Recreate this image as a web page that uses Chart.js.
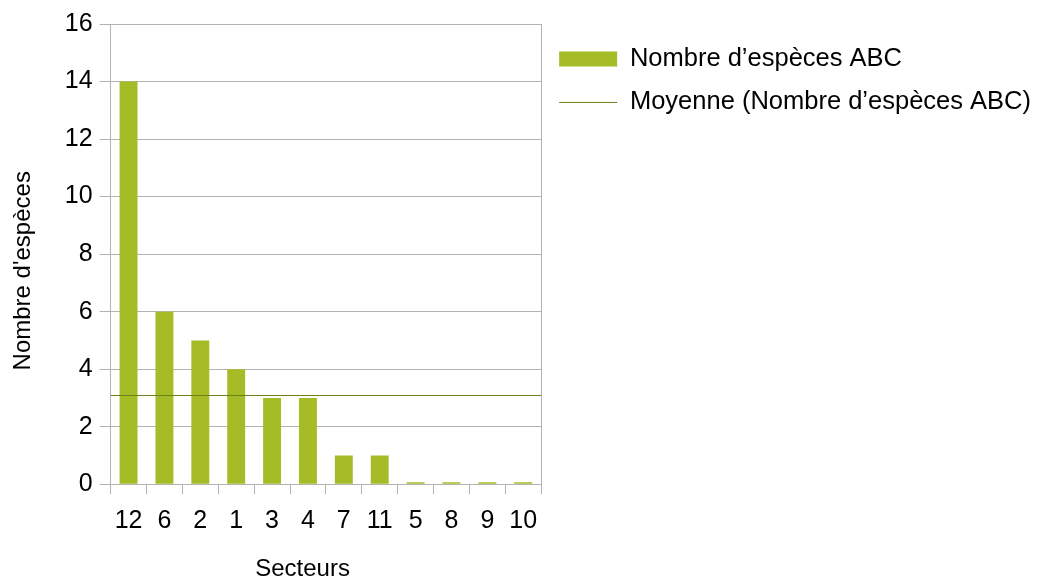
<!DOCTYPE html>
<html>
<head>
<meta charset="utf-8">
<script src="https://cdn.jsdelivr.net/npm/chart.js@4"></script>
<style>
  html, body { margin: 0; padding: 0; background: #fff; }
  #wrap { width: 1040px; height: 576px; }
</style>
</head>
<body>
<div id="wrap"><canvas id="chart"></canvas></div>
<script>
// Sectors sorted by number of species
const secteurs = ["12", "6", "2", "1", "3", "4", "7", "11", "5", "8", "9", "10"];
const especes = [14, 6, 5, 4, 3, 3, 1, 1, 0, 0, 0, 0];
const yMin = 0;
const yMax = 16;
const yStep = 2;

const moyenne = especes.reduce((a, b) => a + b, 0) / especes.length;

const vert = "#a6bc26";
const vertFonce = "#6b7e16";
const gris = "#b3b3b3";

// axis titles sit a bit off-centre, so pad them with trailing spaces
const nbsp = (n) => "\u00a0".repeat(n);

Chart.defaults.font.family = "'Liberation Sans', Arial, sans-serif";
Chart.defaults.color = "#000";

const ctx = document.getElementById("chart").getContext("2d");
new Chart(ctx, {
  type: "bar",
  data: {
    labels: secteurs,
    datasets: [
      {
        label: "Nombre d\u2019espèces ABC",
        data: especes,
        backgroundColor: vert,
        borderWidth: 0,
        barPercentage: 0.5,
        categoryPercentage: 1,
        grouped: false,
        minBarLength: 2,
        order: 1,
      },
      {
        type: "line",
        label: "Moyenne (Nombre d\u2019espèces ABC)",
        // mean line spans the whole plot width on a hidden linear axis
        data: [{ x: 0, y: moyenne }, { x: secteurs.length, y: moyenne }],
        xAxisID: "xMoy",
        borderColor: vertFonce,
        backgroundColor: vertFonce,
        borderWidth: 1,
        pointRadius: 0,
        order: 0,
      },
    ],
  },
  options: {
    responsive: true,
    maintainAspectRatio: false,
    animation: false,
    layout: { padding: { top: 24, right: -1, bottom: -8, left: 9 } },
    plugins: {
      tooltip: { enabled: false },
      legend: {
        position: "right",
        align: "start",
        maxWidth: 520,
        title: { display: true, text: "", font: { size: 1 }, padding: { top: 3, bottom: 0 } },
        labels: {
          font: { size: 25.5 },
          color: "#000",
          usePointStyle: true,
          boxHeight: 15,
          pointStyleWidth: 58,
          padding: 18,
          generateLabels: (chart) => {
            const items = Chart.defaults.plugins.legend.labels.generateLabels(chart);
            items.sort((a, b) => a.datasetIndex - b.datasetIndex);
            items.forEach((it) => {
              it.pointStyle = it.datasetIndex === 0 ? "rect" : "line";
            });
            return items;
          },
        },
      },
    },
    scales: {
      x: {
        type: "category",
        grid: { offset: true, drawOnChartArea: false, drawTicks: true, tickLength: 10, color: gris },
        border: { color: gris },
        ticks: { font: { size: 25 }, padding: 12, maxRotation: 0, autoSkip: false },
        title: { display: true, text: "Secteurs" + nbsp(7), font: { size: 24 }, padding: { top: 7, bottom: 0 } },
      },
      xMoy: {
        type: "linear",
        display: false,
        offset: false,
        min: 0,
        max: secteurs.length,
      },
      y: {
        min: yMin,
        max: yMax,
        ticks: { stepSize: yStep, font: { size: 25 }, padding: 7 },
        grid: { color: gris, tickLength: 11 },
        border: { color: gris },
        title: { display: true, text: "Nombre d'espèces" + nbsp(5), font: { size: 24 }, padding: { top: 0, bottom: 20 } },
      },
      yR: {
        position: "right",
        min: yMin,
        max: yMax,
        ticks: { display: false },
        grid: { drawOnChartArea: false, drawTicks: false },
        border: { color: gris },
      },
    },
  },
});
</script>
</body>
</html>
